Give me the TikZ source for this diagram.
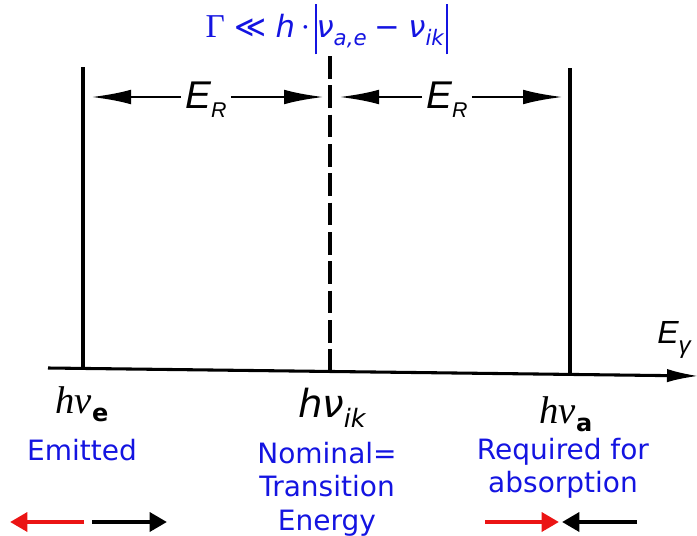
\documentclass[tikz,border=0pt]{standalone}
\usepackage{fontspec}
\newfontfamily\dv{DejaVu Sans}
\newfontfamily\ls{Liberation Sans}
\newfontfamily\lsr{Liberation Serif}
\usetikzlibrary{arrows.meta}
\definecolor{lblue}{RGB}{20,20,225}
\definecolor{ared}{RGB}{235,20,20}
\newcommand{\absbar}{\raisebox{-13pt}{\rule{1.4pt}{38pt}}}
\tikzset{
  vline/.style={line width=2.6pt},
  dline/.style={line width=2.6pt, dash pattern=on 17pt off 5pt},
  axis/.style={line width=2.3pt, -{Latex[length=24pt,width=10pt]}},
  erarrow/.style={line width=2.2pt, -{Latex[length=30pt,width=11pt]}},
  erlabel/.style={inner sep=3pt, font=\ls\itshape\fontsize{29}{30}\selectfont},
  bluetext/.style={text=lblue, font=\dv\fontsize{21}{25}\selectfont, align=center, inner sep=0pt},
  bigarrow/.style={line width=3.7pt, -{Triangle[length=13pt,width=14pt]}},
}
\begin{document}
\begin{tikzpicture}[x=0.75pt,y=-0.75pt]
\useasboundingbox (0,0) rectangle (697,536);
% formula
\node[anchor=base, text=lblue, inner sep=0pt] (formula) at (327,37)
  {\fontsize{23}{26}\selectfont{\lsr\fontsize{25}{26}\selectfont Γ}\hspace{7pt}{\dv≪}\hspace{7pt}{\dv\itshape h}\hspace{4pt}{\lsr·}\hspace{3pt}\absbar{\dv\itshape ν\raisebox{-6pt}{\fontsize{16}{16}\selectfont a,e}}\hspace{6pt}{\dv −}\hspace{6pt}{\dv\itshape ν\raisebox{-6pt}{\fontsize{16}{16}\selectfont ik}}\hspace{2pt}\absbar};
% vertical lines
\coordinate (Ltop) at (83,67);
\coordinate (Lbot) at (83,369);
\coordinate (Mtop) at (330,56);
\coordinate (Mbot) at (330,371);
\coordinate (Rtop) at (570,68);
\coordinate (Rbot) at (570,374);
\draw[vline] (Ltop) -- (Lbot);
\draw[dline] (Mtop) -- (Mbot);
\draw[vline] (Rtop) -- (Rbot);
% axis
\coordinate (Astart) at (48,368);
\coordinate (Aend) at (699,376);
\draw[axis] (Astart) -- (Aend);
\node[anchor=base west, inner sep=0pt, font=\ls\itshape\fontsize{24}{26}\selectfont] (Eg) at (657,343) {E\raisebox{-8pt}{\fontsize{18}{18}\selectfont γ}};
% E_R arrows
\node[erlabel] (ER1) at (206,100) {E\raisebox{-7pt}{\fontsize{16}{16}\selectfont R}};
\node[erlabel] (ER2) at (447,100) {E\raisebox{-7pt}{\fontsize{16}{16}\selectfont R}};
\coordinate (a1) at (91,97);
\coordinate (a2) at (324,97);
\coordinate (a3) at (339,97);
\coordinate (a4) at (563,97);
\draw[erarrow] (ER1.west |- a1) -- (a1);
\draw[erarrow] (ER1.east |- a2) -- (a2);
\draw[erarrow] (ER2.west |- a3) -- (a3);
\draw[erarrow] (ER2.east |- a4) -- (a4);
% energy labels
\node[anchor=base, inner sep=0pt] (hve) at (82,413) {\lsr\itshape\fontsize{29}{30}\selectfont hν\raisebox{-6pt}{\dv\upshape\bfseries\fontsize{18}{18}\selectfont e}};
\node[anchor=base, inner sep=0pt] (hvik) at (332,417) {\dv\itshape\fontsize{29}{32}\selectfont h\kern-0.5pt ν\raisebox{-8pt}{\fontsize{19}{19}\selectfont ik}};
\node[anchor=base, inner sep=0pt] (hva) at (566,423) {\lsr\itshape\fontsize{29}{30}\selectfont hν\raisebox{-6pt}{\dv\upshape\bfseries\fontsize{18}{18}\selectfont a}};
% blue labels
\node[bluetext, anchor=base] (emit) at (82,460) {Emitted};
\node[bluetext, anchor=north] (nom) at (327,442) {Nominal=\\Transition\\Energy};
\node[bluetext, anchor=north] (req) at (563,438) {Required for\\absorption};
% bottom arrows
\coordinate (r1s) at (84,522);
\coordinate (r1e) at (10,522);
\coordinate (b1s) at (92,522);
\coordinate (b1e) at (167,522);
\coordinate (r2s) at (485,522);
\coordinate (r2e) at (559,522);
\coordinate (b2s) at (637,522);
\coordinate (b2e) at (562,522);
\draw[bigarrow, ared] (r1s) -- (r1e);
\draw[bigarrow, black] (b1s) -- (b1e);
\draw[bigarrow, ared] (r2s) -- (r2e);
\draw[bigarrow, black] (b2s) -- (b2e);
\end{tikzpicture}
\end{document}
